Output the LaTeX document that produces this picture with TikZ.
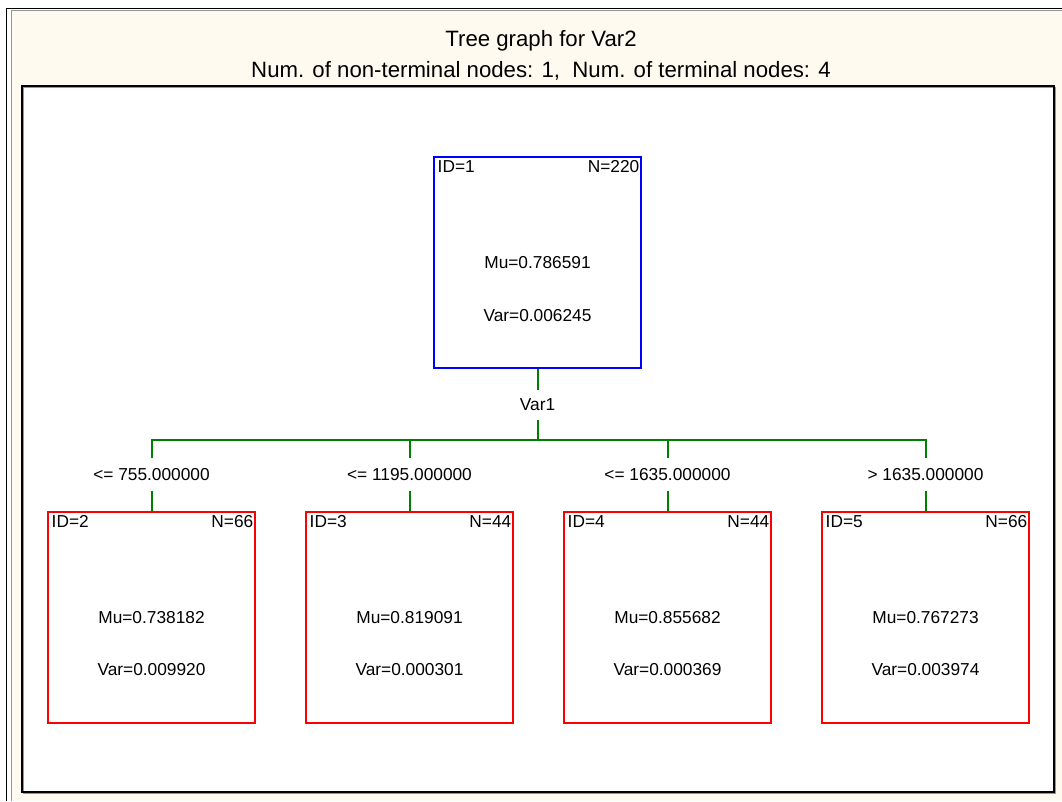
\documentclass[tikz,border=0pt]{standalone}
\usepackage{fontspec}
\setmainfont{Liberation Sans}
\definecolor{panelcream}{RGB}{255,250,240}
\definecolor{framegray}{RGB}{150,150,150}
\definecolor{rootblue}{RGB}{0,0,255}
\definecolor{leafred}{RGB}{255,0,0}
\definecolor{linkgreen}{RGB}{0,128,0}
\tikzset{
  treebox/.style={draw, line width=2pt, fill=white, minimum width=207pt,
    minimum height=211pt, inner sep=0pt},
  rootbox/.style={treebox, draw=rootblue},
  leafbox/.style={treebox, draw=leafred},
  boxtext/.style={font=\fontsize{17.3}{19}\selectfont, inner sep=0pt, anchor=base},
  splitlab/.style={font=\fontsize{17.3}{19}\selectfont, inner sep=0pt,
    minimum height=30pt, text depth=0pt},
  cutlab/.style={splitlab, minimum height=32pt},
  conn/.style={draw=linkgreen, line width=2pt},
  titletext/.style={font=\fontsize{22.2}{25}\selectfont, inner sep=0pt, anchor=base}
}
% box with ID, N, mean and variance lines
\newcommand{\treenode}[7]{%
  \node[#1] (#2) at (#3) {};
  \node[boxtext, anchor=base west] (#2id) at ([xshift=4.5pt,yshift=-16.5pt]#2.north west) {ID=#4};
  \node[boxtext, anchor=base east] (#2n) at ([xshift=-2.5pt,yshift=-16.5pt]#2.north east) {N=#5};
  \node[boxtext] (#2mu) at ([yshift=-112.5pt]#2.north) {Mu=#6};
  \node[boxtext] (#2var) at ([yshift=-165pt]#2.north) {Var=#7};
}
\begin{document}
\begin{tikzpicture}[x=1pt,y=-1pt]
  \useasboundingbox (0,0) rectangle (1062,801);
  \fill[white] (0,0) rectangle (1062,801);
  % window panel
  \fill[panelcream] (12,10) rectangle (1062,801);
  \draw[black, line width=1.6pt] (6.5,801) -- (6.5,8.5) -- (1062,8.5);
  \draw[framegray, line width=1.4pt] (11.5,801) -- (11.5,10.3) -- (1062,10.3);
  % titles
  \node[titletext] (title) at (541,46) {Tree graph for Var2};
  \node[titletext] (subtitle) at (541,77) {Num. of non-terminal nodes: 1,\ \ Num. of terminal nodes: 4};
  % plot area
  \draw[framegray, line width=1.2pt, fill=white] (23.5,87.5) rectangle (1055.5,793.5);
  \draw[black, line width=1.4pt] (22,86) rectangle (1054,792);
  % nodes
  \treenode{rootbox}{n1}{537.5,262.5}{1}{220}{0.786591}{0.006245}
  \treenode{leafbox}{n2}{151.5,617}{2}{66}{0.738182}{0.009920}
  \treenode{leafbox}{n3}{409.5,617}{3}{44}{0.819091}{0.000301}
  \treenode{leafbox}{n4}{667.5,617}{4}{44}{0.855682}{0.000369}
  \treenode{leafbox}{n5}{925.5,617}{5}{66}{0.767273}{0.003974}
  % split and cut labels
  \node[splitlab] (s1) at (537.5,405) {Var1};
  \node[cutlab] (l2) at (151.5,474.5) {<= 755.000000};
  \node[cutlab] (l3) at (409.5,474.5) {<= 1195.000000};
  \node[cutlab] (l4) at (667.5,474.5) {<= 1635.000000};
  \node[cutlab] (l5) at (925.5,474.5) {> 1635.000000};
  \coordinate (hb) at (537.5,440);
  % connectors
  \draw[conn] (n1.south) -- (s1.north);
  \draw[conn] (s1.south) -- (hb);
  \draw[conn] (l2.north) -- (l2.north |- hb) -- (l5.north |- hb) -- (l5.north);
  \draw[conn] (l3.north) -- (l3.north |- hb);
  \draw[conn] (l4.north) -- (l4.north |- hb);
  \draw[conn] (l2.south) -- (n2.north);
  \draw[conn] (l3.south) -- (n3.north);
  \draw[conn] (l4.south) -- (n4.north);
  \draw[conn] (l5.south) -- (n5.north);
\end{tikzpicture}
\end{document}
